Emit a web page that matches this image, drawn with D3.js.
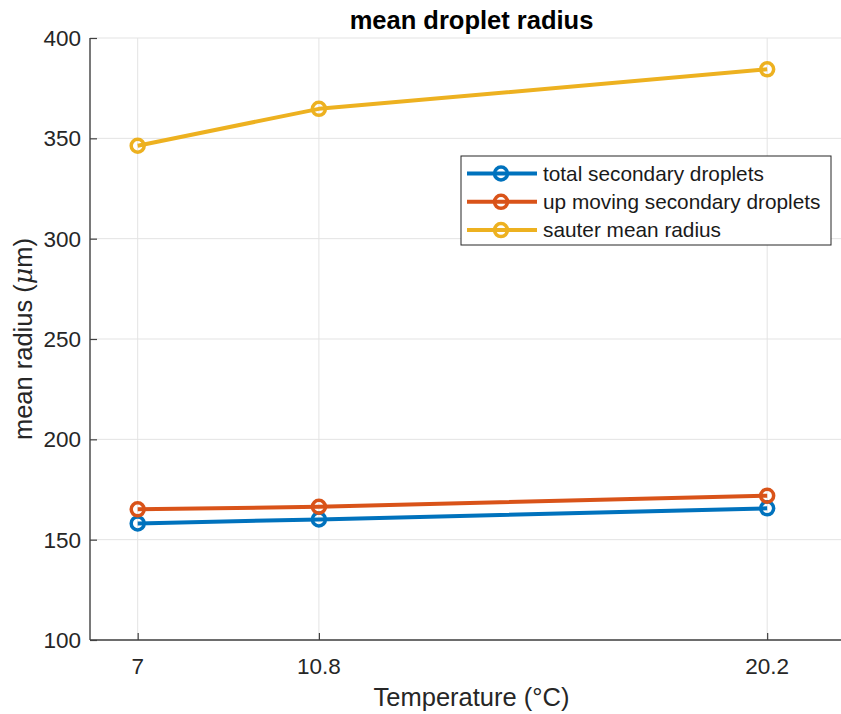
<!DOCTYPE html>
<html>
<head>
<meta charset="utf-8">
<script src="https://cdn.jsdelivr.net/npm/d3@7"></script>
<style>
  html, body { margin: 0; padding: 0; background: #fff; }
  svg { display: block; font-family: "Liberation Sans", Arial, Helvetica, sans-serif; }
</style>
</head>
<body>
<svg id="chart" width="841" height="714"></svg>
<script>
// Measured droplet radii (µm) at each temperature (°C)
const temperatures = [7, 10.8, 20.2];
const totalSecondary = [158.1, 160.1, 165.6];
const upMovingSecondary = [165.1, 166.4, 171.9];
const sauterMean = [346.3, 364.7, 384.4];

const seriesNames = ["total secondary droplets", "up moving secondary droplets", "sauter mean radius"];
const seriesColors = ["#0072BD", "#D95319", "#EDB120"];
const yTicks = [100, 150, 200, 250, 300, 350, 400];
const xTicks = [7, 10.8, 20.2];

const series = [totalSecondary, upMovingSecondary, sauterMean].map((vals, i) => ({
  name: seriesNames[i],
  color: seriesColors[i],
  points: temperatures.map((t, j) => ({ x: t, y: vals[j] }))
}));

const svg = d3.select("#chart");
const plotLeft = 90, plotTop = 38, plotBottom = 640, plotRight = 853;

const x = d3.scaleLinear().domain([6, 22]).range([plotLeft, plotRight]);
const y = d3.scaleLinear().domain([100, 400]).range([plotBottom, plotTop]);

// grid
const grid = svg.append("g");
grid.selectAll("line.gx").data(xTicks).join("line")
  .attr("x1", d => x(d)).attr("x2", d => x(d))
  .attr("y1", plotTop).attr("y2", plotBottom)
  .attr("stroke", "#e3e3e3").attr("stroke-width", 1);
grid.selectAll("line.gy").data(yTicks).join("line")
  .attr("x1", plotLeft).attr("x2", plotRight)
  .attr("y1", d => y(d)).attr("y2", d => y(d))
  .attr("stroke", "#e3e3e3").attr("stroke-width", 1);

// axes with inward ticks
const axisColor = "#404040";
const tickFont = 22.5;
const xAxis = svg.append("g").attr("transform", `translate(0,${plotBottom})`)
  .call(d3.axisTop(x).tickValues(xTicks).tickFormat(d3.format("")).tickSize(7).tickPadding(0));
xAxis.select(".domain").remove();
xAxis.selectAll("text").remove();
xAxis.selectAll("line").attr("stroke", axisColor).attr("stroke-width", 1.2);
svg.append("line").attr("x1", plotLeft).attr("x2", plotRight).attr("y1", plotBottom).attr("y2", plotBottom)
  .attr("stroke", axisColor).attr("stroke-width", 1.4);
svg.append("g").selectAll("text").data(xTicks).join("text")
  .attr("x", d => x(d)).attr("y", plotBottom + 34)
  .attr("text-anchor", "middle").attr("font-size", tickFont).attr("fill", "#262626")
  .text(d => d3.format("")(d));

const yAxis = svg.append("g").attr("transform", `translate(${plotLeft},0)`)
  .call(d3.axisRight(y).tickValues(yTicks).tickSize(7));
yAxis.select(".domain").remove();
yAxis.selectAll("text").remove();
yAxis.selectAll("line").attr("stroke", axisColor).attr("stroke-width", 1.2);
svg.append("line").attr("x1", plotLeft).attr("x2", plotLeft).attr("y1", plotTop).attr("y2", plotBottom)
  .attr("stroke", axisColor).attr("stroke-width", 1.4);
svg.append("g").selectAll("text").data(yTicks).join("text")
  .attr("x", plotLeft - 9).attr("y", d => y(d)).attr("dy", "0.35em")
  .attr("text-anchor", "end").attr("font-size", tickFont).attr("fill", "#262626")
  .text(d => d);

// series lines and circle markers
const line = d3.line().x(d => x(d.x)).y(d => y(d.y));
series.forEach(s => {
  svg.append("path").datum(s.points)
    .attr("d", line).attr("fill", "none")
    .attr("stroke", s.color).attr("stroke-width", 4).attr("stroke-linejoin", "round");
  svg.append("g").selectAll("circle").data(s.points).join("circle")
    .attr("cx", d => x(d.x)).attr("cy", d => y(d.y)).attr("r", 6.5)
    .attr("fill", "none").attr("stroke", s.color).attr("stroke-width", 3.5);
});

// title and axis labels
svg.append("text").attr("x", (plotLeft + plotRight) / 2).attr("y", 29)
  .attr("text-anchor", "middle").attr("font-size", 25.5).attr("font-weight", "bold")
  .attr("fill", "#000").text("mean droplet radius");

svg.append("text").attr("x", (plotLeft + plotRight) / 2).attr("y", 706)
  .attr("text-anchor", "middle").attr("font-size", 25.5).attr("fill", "#262626")
  .text("Temperature (°C)");

const yl = svg.append("text")
  .attr("transform", `translate(32,${(plotTop + plotBottom) / 2}) rotate(-90)`)
  .attr("text-anchor", "middle").attr("font-size", 25.5).attr("fill", "#262626");
yl.append("tspan").text("mean radius (");
yl.append("tspan").attr("font-style", "italic").attr("font-family", "'DejaVu Serif', 'Liberation Serif', serif").text("μ");
yl.append("tspan").text("m)");

// legend
const lg = svg.append("g").attr("transform", "translate(461,156)");
lg.append("rect").attr("width", 370).attr("height", 89)
  .attr("fill", "#fff").attr("stroke", "#262626").attr("stroke-width", 1);
const rows = lg.selectAll("g.row").data(series).join("g")
  .attr("transform", (d, i) => `translate(0,${17.5 + i * 28.3})`);
rows.append("line").attr("x1", 6).attr("x2", 76).attr("y1", 0).attr("y2", 0)
  .attr("stroke", d => d.color).attr("stroke-width", 4);
rows.append("circle").attr("cx", 40).attr("cy", 0).attr("r", 6.5)
  .attr("fill", "none").attr("stroke", d => d.color).attr("stroke-width", 3.5);
rows.append("text").attr("x", 82).attr("y", 0).attr("dy", "0.35em")
  .attr("font-size", 20.8).attr("fill", "#1a1a1a").text(d => d.name);
</script>
</body>
</html>
